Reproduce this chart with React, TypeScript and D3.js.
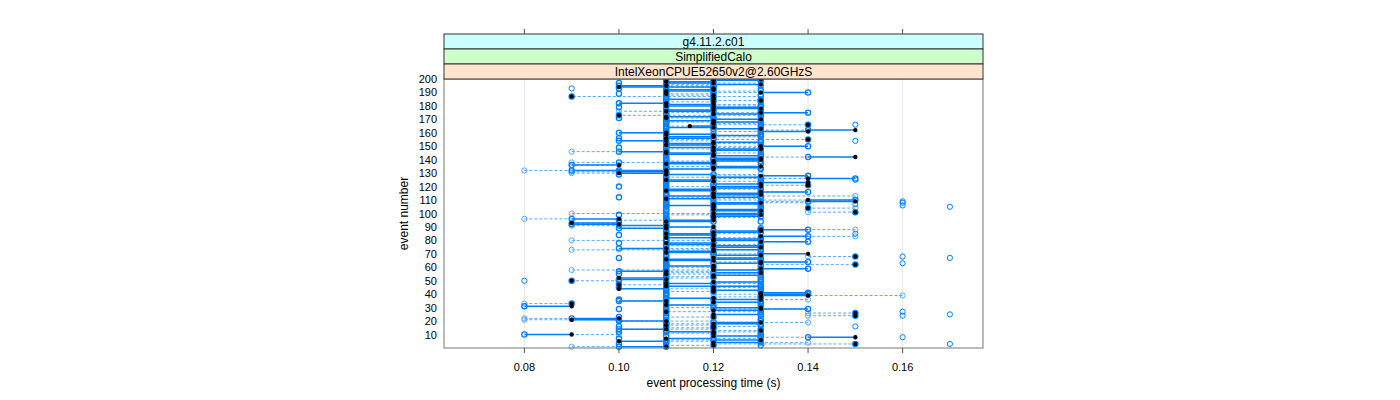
import React from "react";
import * as d3 from "d3";

// times are in hundredths of a second, per event (index 0 = event 1)
const runA = [10,12,15,13,11,12,12,14,13, 8,
 12,11,13,10,12,12,11,13,12,10,
 10, 9,12,15,13,15,11,13,14,12,
  8,12, 9,13,10,12,11,13,13,14,
 14,12,13,11,12,13,10,12,13, 9,
 10,11,12,13,11,12,10,13,14,12,
 11,15,12,14,11,13,13,15,12,13,
 12,11,13,10,12,13,11,12,14,13,
 13,12,14,11,12,13,12,14,10,11,
 10, 9,10,12,11, 9,12,13,12,13,
 15,12,13,14,12,11,13,12,14,15,
 12,13,11,12,13,14,12,11,13,12,
 14,12,13,11,12,15,13,14,12,11,
 10, 9,11,13,12, 9,12,11,13,12,
 12,14,13,11,12,10,13,12,11,14,
 12,11,13,10,14,12,11,13,12,10,
 13,14,12,11,12,14,12,13,11,12,
 11,12,10,13,14,12,11,12,13,12,
 11,10,12,13,11,12, 9,12,11,14,
 12,11,12,12,10,12,11,12,13,13];

const runB = [11,12,15,12,10,13,11,15,12, 9,
 12,12,13,11,12,12,11,12,13,11,
  9,10,12,15,12,15,11,12,13,13,
  9,11, 9,12,11,13,12,13,14,13,
 13,12,12,10,12,11,10,11,12, 9,
 11,10,12,12,11,13,11,12,13,12,
 12,15,13,13,12,11,12,15,13,14,
 11,12,12,11,13,12,12,11,13,12,
 12,11,13,12,11,12,13,13,11,12,
 11,10, 9,11,12,10,12,12,13,12,
 15,13,12,14,12,12,12,13,15,14,
 11,12,12,13,12,13,11,12,12,13,
 14,13,14,12,11,14,12,13,11,10,
 11,11,12,12,13,10,11,12,12,13,
 13,15,12,12,11,11,12,13,12,13,
 11,12,12,11,14,11,12,12,11,11,
 14,15,13,12,11.5,14,12,12,12,13,
 11,11,10,12,13,11,12,13,12,11,
 12,11,12,13,12,12, 9,12,11,13,
 11,12,12,10,11,13,12,11,12,13];

const runC = [ 9,11,12,14,12,11,13,13,12,10,
 11,13,12,12,11,13,12,11,14,12,
  8, 8,11,14,12,14,13,12,12,11,
  8,11, 8,12,11,14,12,12,16,12,
 13,11,12,12,13,12,11,13,12,10,
 11,12,11,12,13,11,12, 9,13,11,
 12,13,13,12,11,13,12,14,13,12,
 11,12, 9,12,12,11,13,12,13, 9,
 12,13,15,12,13,12,12,15,11,12,
  9,10, 9,11,10, 8,13,12,11, 9,
 14,13,12,15,12,11,12,14,13,12,
 13,11,15,12,12,13,12,13,12,11,
 13,12,14,13,12,12,11,12,13, 9,
  9, 8,12,12,11,10,12, 9,11,12,
 13,13,12,12,13, 9,12,11,13,12,
 11,13,12,12,11,12,13,12,11,11,
 12,13,13,12,11,12,13,11,12,13,
 12,11,13,12,11,10,12,13,12,13,
 13,10,11,12,11,12,13,11,12,12,
 13,12,12,11,12,11,13,12,12,12];

// extra unconnected runs (0 = no observation)
const runD = [0,0,17,0,0,0,0,16,0,0,
 0,0,0,0,0,15,0,0,0,0,
 0,0,0,16,17,0,16,0,0,0,
 0,0,0,0,0,0,0,0,0,0,
 0,0,0,0,0,0,0,0,0,8,
 0,0,0,0,0,0,0,0,0,0,
 0,0,16,0,0,0,17,16,0,0,
 0,0,0,0,0,0,0,0,0,0,
 0,0,0,0,15,0,0,0,0,0,
 0,0,0,0,0,0,0,0,0,0,
 0,0,0,0,17,16,15,16,16,0,
 0,0,0,0,0,0,0,0,0,0,
 0,0,0,0,15,0,0,0,0,0,
 0,0,0,0,0,0,0,0,0,0,
 0,0,0,0,0,0,0,0,0,0,
 0,0,0,15,0,0,0,0,0,0,
 0,0,0,0,0,15,0,0,0,0,
 0,0,0,0,0,0,0,0,0,0,
 0,0,0,0,0,0,0,0,0,0,
 0,0,9,0,0,0,0,0,0,0];

const runE = [11,13,10,11,13,11,10,13,11,13,
 13,10,11,13,11,10,13,11,11,13,
 11,13,10,11,13,11,13,11,10,11,
 13,11,13,11,13,10,11,13,11,11,
 11,13,11,13,10,11,13,11,11,10,
 13,11,13,11,10,13,11,11,13,11,
 13,11,11,13,13,11,10,11,11,13,
 11,13,11,11,13,11,13,10,11,11,
 11,13,11,10,11,11,11,13,13,11,
 11,11,11,13,10,11,11,11,10,11,
 13,11,11,13,11,13,11,11,13,11,
 11,10,13,11,11,13,11,13,11,10,
 11,13,11,13,11,13,11,11,10,11,
 11,10,13,11,11,11,13,10,11,11,
 11,13,11,13,11,11,11,13,10,11,
 13,11,11,13,11,10,13,11,13,11,
 11,13,11,13,11,13,11,11,13,11,
 10,13,11,11,13,11,13,11,10,13,
 11,11,13,11,13,11,11,13,10,11,
 11,13,10,11,13,11,10,11,13,11];

const xTicks = [0.08, 0.10, 0.12, 0.14, 0.16];
const yTicks = [10,20,30,40,50,60,70,80,90,100,110,120,130,140,150,160,170,180,190,200];
const strips = [
  { label: "g4.11.2.c01", fill: "#ccffff" },
  { label: "SimplifiedCalo", fill: "#ccffcc" },
  { label: "IntelXeonCPUE52650v2@2.60GHzS", fill: "#ffe5cc" },
];

const BLUE = "#0080ff";
const LIGHT = "#55aaff";
const FONT = "'Liberation Sans', Arial, Helvetica, sans-serif";

export default function App() {
  const left = 444, right = 983, top = 79, bottom = 348;
  const x = d3.scaleLinear().domain([0.063, 0.177]).range([left, right]);
  const y = d3.scaleLinear().domain([0, 200]).range([bottom, top]);
  const t = (v: number) => x(v / 100);
  const events = d3.range(200);
  const stripH = 15;

  return (
    <svg width={1400} height={400} style={{ position: "absolute", left: 0, top: 0, background: "#fff" }} fontFamily={FONT}>
      {xTicks.map((v) => (
        <line key={"g" + v} x1={x(v)} x2={x(v)} y1={top} y2={bottom} stroke="#e8e8e8" strokeWidth={1} />
      ))}
      <g stroke={LIGHT} strokeWidth={1} strokeDasharray="3,2" fill="none">
        {events.filter((i) => runC[i] !== runA[i]).map((i) => (
          <line key={"d" + i} x1={t(runC[i])} x2={t(runA[i])} y1={y(i + 1)} y2={y(i + 1)} />
        ))}
      </g>
      <g stroke={BLUE} strokeWidth={1.5} fill="none">
        {events.filter((i) => runA[i] !== runB[i]).map((i) => (
          <line key={"s" + i} x1={t(runA[i])} x2={t(runB[i])} y1={y(i + 1)} y2={y(i + 1)} />
        ))}
      </g>
      <g stroke={LIGHT} strokeWidth={1} fill="none">
        {events.map((i) => (
          <circle key={"c" + i} cx={t(runC[i])} cy={y(i + 1)} r={2.6} />
        ))}
        {events.filter((i) => runD[i] > 0).map((i) => (
          <circle key={"e" + i} cx={t(runD[i])} cy={y(i + 1)} r={2.6} stroke={BLUE} />
        ))}
      </g>
      <g stroke={BLUE} strokeWidth={1.3} fill="none">
        {events.map((i) => (
          <circle key={"f" + i} cx={t(runE[i])} cy={y(i + 1)} r={2.6} />
        ))}
        {events.map((i) => (
          <circle key={"a" + i} cx={t(runA[i])} cy={y(i + 1)} r={2.6} />
        ))}
      </g>
      <g fill="#000">
        {events.map((i) => (
          <circle key={"b" + i} cx={t(runB[i])} cy={y(i + 1)} r={2.2} />
        ))}
      </g>
      <rect x={left} y={top} width={right - left} height={bottom - top} fill="none" stroke="#777" strokeWidth={1} />
      {strips.map((s, k) => {
        const sy = top - stripH * (strips.length - k);
        return (
          <g key={s.label}>
            <rect x={left} y={sy} width={right - left} height={stripH} fill={s.fill} stroke="#333" strokeWidth={1} />
            <text x={(left + right) / 2} y={sy + stripH / 2 + 4.5} textAnchor="middle" fontSize={12} fill="#000">
              {s.label}
            </text>
          </g>
        );
      })}
      {xTicks.map((v) => (
        <g key={"t" + v}>
          <line x1={x(v)} x2={x(v)} y1={bottom} y2={bottom + 5} stroke="#555" />
          <line x1={x(v)} x2={x(v)} y1={top - stripH * 3 - 5} y2={top - stripH * 3} stroke="#555" />
          <text x={x(v)} y={bottom + 23} textAnchor="middle" fontSize={11}>{v.toFixed(2)}</text>
        </g>
      ))}
      {yTicks.map((v) => (
        <text key={"y" + v} x={437} y={y(v) + 4} textAnchor="end" fontSize={11}>{v}</text>
      ))}
      <text x={(left + right) / 2} y={387} textAnchor="middle" fontSize={12}>event processing time (s)</text>
      <text transform={`translate(408, ${(top + bottom) / 2}) rotate(-90)`} textAnchor="middle" fontSize={12}>event number</text>
    </svg>
  );
}
